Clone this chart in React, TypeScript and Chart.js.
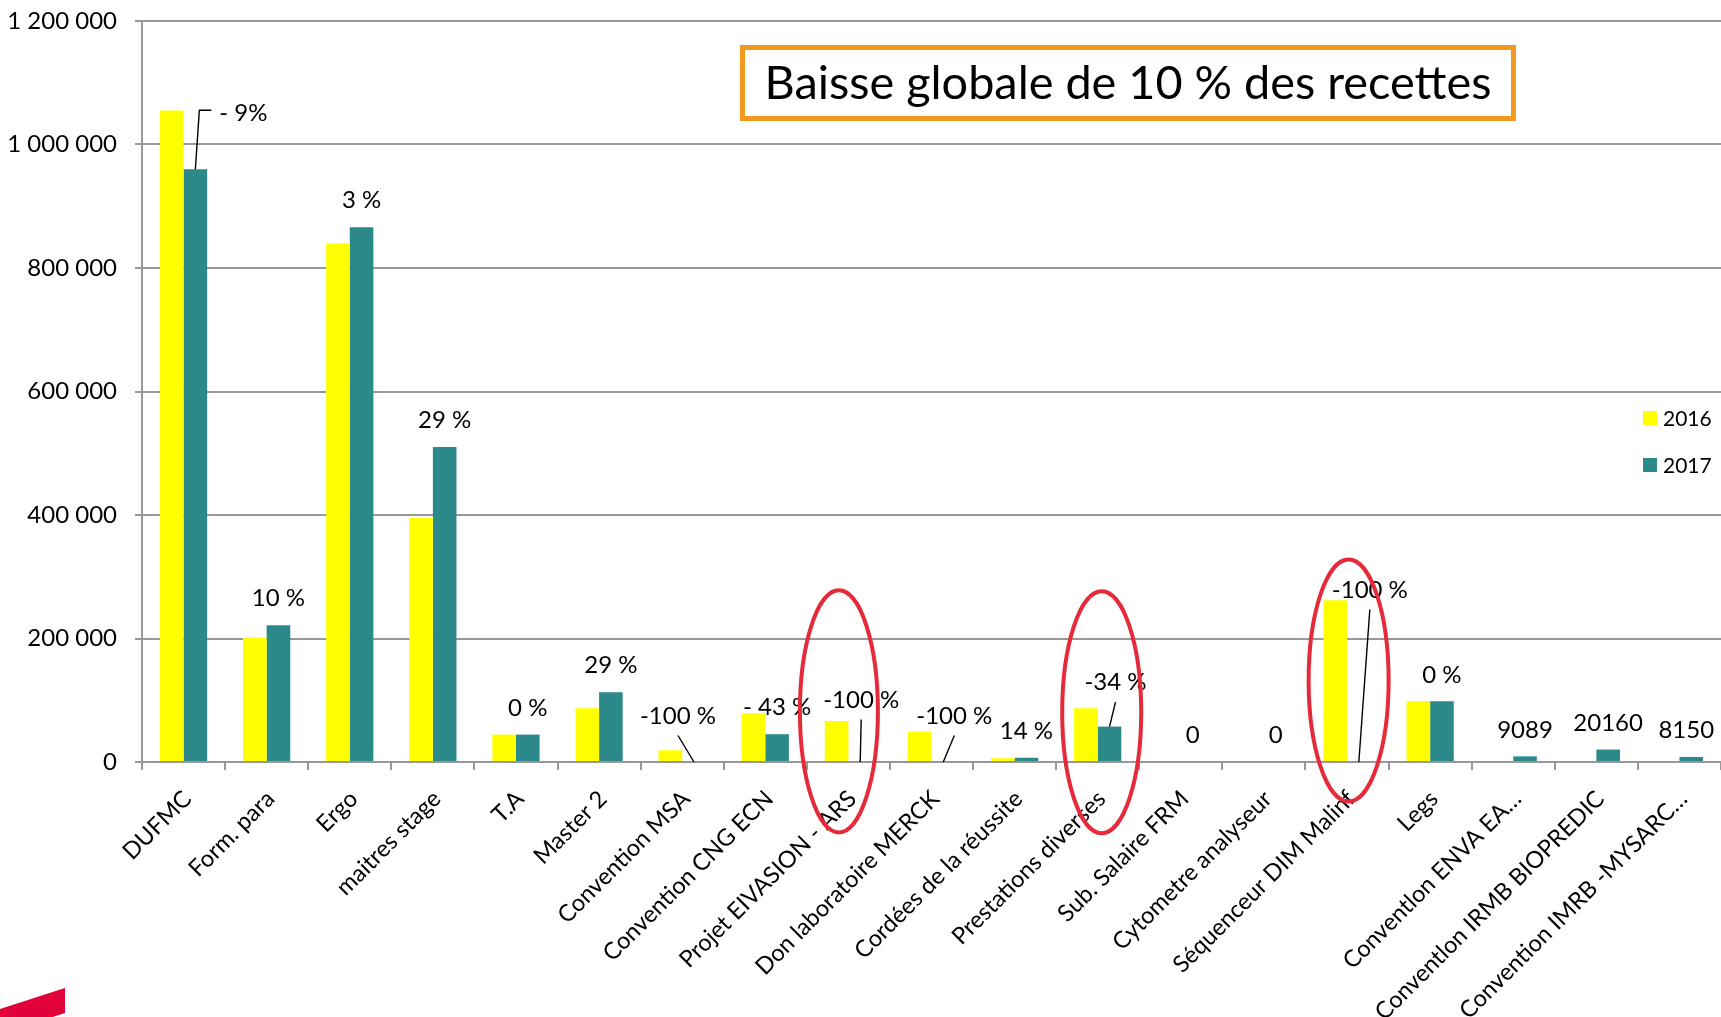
import React, { useEffect, useRef } from 'react';
import { Chart, registerables } from 'chart.js';

Chart.register(...registerables);

// ---------- data ----------
const categories = [
  'DUFMC',
  'Form. para',
  'Ergo',
  'maitres stage',
  'T.A',
  'Master 2',
  'Convention MSA',
  'Convention CNG ECN',
  'Projet EIVASION - ARS',
  'Don laboratoire MERCK',
  'Cordées de la réussite',
  'Prestations diverses',
  'Sub. Salaire FRM',
  'Cytometre analyseur',
  'Séquenceur DIM Malinf',
  'Legs',
  'Conventlon ENVA EA…',
  'Conventlon IRMB BIOPREDIC',
  'Convention IMRB -MYSARC…',
];

const values2016 = [
  1055000, 201500, 840000, 395000, 44400, 87000, 19000, 79000, 66400, 49200,
  6000, 87000, 0, 0, 262000, 98300, 0, 0, 0,
];

const values2017 = [
  960000, 221500, 866000, 510000, 44400, 113000, 0, 45000, 0, 0,
  6850, 57400, 0, 0, 0, 98300, 9089, 20160, 8150,
];

const changeLabels = [
  '- 9%', '10 %', '3 %', '29 %', '0 %', '29 %', '-100 %', '- 43 %', '-100 %', '-100 %',
  '14 %', '-34 %', '0', '0', '-100 %', '0 %', '9089', '20160', '8150',
];

const seriesNames = ['2016', '2017'];
const seriesColors = ['#FFFF00', '#2B8989'];

const yMin = 0;
const yMax = 1200000;
const yStep = 200000;

const titleText = 'Baisse globale de 10 % des recettes';

// categories circled in red
const highlightedCategories = [8, 11, 14];

// ---------- styling / placement (not data) ----------
const gridColor = '#989898';
const FONT = 'Lato';

type Placement = { dx: number; dy: number; leader: 'none' | 'line' | 'elbow' };
const defaultPlacement: Placement = { dx: 0, dy: -26.5, leader: 'none' };
const placementOverrides: Record<number, Placement> = {
  0: { dx: 48, dy: -56, leader: 'elbow' },
  6: { dx: -16, dy: -46, leader: 'line' },
  8: { dx: 1, dy: -62, leader: 'line' },
  9: { dx: 11, dy: -46, leader: 'line' },
  11: { dx: 6, dy: -44, leader: 'line' },
  14: { dx: 11, dy: -172, leader: 'line' },
  18: { dx: -5, dy: -26.5, leader: 'none' },
};

// ellipse geometry per highlighted category (pixel offsets from category centre, value centre)
const ellipseStyles = [
  { dx: -9.5, centerValue: 82000, halfValue: 196000, rx: 39 },
  { dx: 4, centerValue: 80500, halfValue: 196000, rx: 39.5 },
  { dx: 1.6, centerValue: 132000, halfValue: 196000, rx: 40 },
];

const formatThousands = (v: number) =>
  String(v).replace(/\B(?=(\d{3})+(?!\d))/g, ' ');

const overlayPlugin = {
  id: 'overlay',
  afterDatasetsDraw(chart: any) {
    const ctx: CanvasRenderingContext2D = chart.ctx;
    const meta = chart.getDatasetMeta(1);
    const xs = chart.scales.x;
    const ys = chart.scales.y;
    ctx.save();
    // data labels with leader lines
    ctx.font = `24px ${FONT}`;
    ctx.fillStyle = '#000';
    ctx.strokeStyle = '#000';
    ctx.lineWidth = 1.4;
    ctx.textAlign = 'center';
    ctx.textBaseline = 'middle';
    changeLabels.forEach((text, i) => {
      const bar = meta.data[i];
      if (!bar) return;
      const p = placementOverrides[i] || defaultPlacement;
      const lx = bar.x + p.dx;
      const ly = bar.y + p.dy;
      if (p.leader === 'line') {
        ctx.beginPath();
        ctx.moveTo(lx, ly + 19.5);
        ctx.lineTo(bar.x, bar.y);
        ctx.stroke();
      } else if (p.leader === 'elbow') {
        ctx.beginPath();
        ctx.moveTo(lx - 32, ly - 3);
        ctx.lineTo(lx - 44, ly - 3);
        ctx.lineTo(bar.x, bar.y);
        ctx.stroke();
      }
      ctx.fillText(text, lx, ly);
    });

    // red ellipses
    ctx.strokeStyle = '#E52A3A';
    ctx.lineWidth = 4;
    highlightedCategories.forEach((idx, k) => {
      const e = ellipseStyles[k];
      const cx = xs.getPixelForValue(idx) + e.dx;
      const cy = ys.getPixelForValue(e.centerValue);
      const ry = Math.abs(ys.getPixelForValue(e.centerValue + e.halfValue) - cy);
      ctx.beginPath();
      ctx.ellipse(cx, cy, e.rx, ry, 0, 0, Math.PI * 2);
      ctx.stroke();
    });
    ctx.restore();
  },
  afterDraw(chart: any) {
    const ctx: CanvasRenderingContext2D = chart.ctx;
    ctx.save();

    // title box
    const bx = 742.5, by = 47.5, bw = 771, bh = 71;
    ctx.fillStyle = '#fff';
    ctx.fillRect(bx, by, bw, bh);
    ctx.strokeStyle = '#F39A1E';
    ctx.lineWidth = 5;
    ctx.strokeRect(bx, by, bw, bh);
    ctx.font = `100px ${FONT}`;
    const w100 = ctx.measureText(titleText).width;
    const size = (100 * 727) / w100;
    ctx.font = `${size}px ${FONT}`;
    ctx.fillStyle = '#000';
    ctx.textAlign = 'center';
    ctx.textBaseline = 'alphabetic';
    ctx.fillText(titleText, bx + bw / 2, 99);

    // legend
    ctx.font = `21px ${FONT}`;
    ctx.textAlign = 'left';
    ctx.textBaseline = 'middle';
    seriesNames.forEach((name, i) => {
      const y = 411 + i * 47;
      ctx.fillStyle = seriesColors[i];
      ctx.fillRect(1643, y, 14, 14);
      ctx.fillStyle = '#000';
      ctx.fillText(name, 1663, y + 8);
    });

    // slide decoration bottom-left
    ctx.fillStyle = '#E2003A';
    ctx.beginPath();
    ctx.moveTo(0, 1009);
    ctx.lineTo(65, 988);
    ctx.lineTo(65, 1013);
    ctx.lineTo(0, 1034);
    ctx.closePath();
    ctx.fill();

    ctx.restore();
  },
};

export default function App() {
  const canvasRef = useRef<HTMLCanvasElement | null>(null);

  useEffect(() => {
    let chart: Chart | null = null;
    let cancelled = false;
    const build = () => {
      if (cancelled || !canvasRef.current) return;
      chart = new Chart(canvasRef.current, {
        type: 'bar',
        data: {
          labels: categories,
          datasets: [
            {
              label: seriesNames[0],
              data: values2016,
              backgroundColor: seriesColors[0],
              borderWidth: 0,
              categoryPercentage: 0.568,
              barPercentage: 1,
            },
            {
              label: seriesNames[1],
              data: values2017,
              backgroundColor: seriesColors[1],
              borderWidth: 0,
              categoryPercentage: 0.568,
              barPercentage: 1,
            },
          ],
        },
        options: {
          responsive: false,
          animation: false,
          devicePixelRatio: 1,
          layout: { padding: { top: 21, right: 0, bottom: 0, left: 0 } },
          plugins: {
            legend: { display: false },
            tooltip: { enabled: false },
            title: { display: false },
          },
          scales: {
            x: {
              grid: {
                offset: true,
                drawOnChartArea: false,
                drawTicks: true,
                tickLength: 8,
                color: gridColor,
                lineWidth: 2,
              },
              border: { color: gridColor, width: 2 },
              ticks: {
                autoSkip: false,
                maxRotation: 45,
                minRotation: 45,
                font: { family: FONT, size: 23.5 },
                color: '#000',
                padding: 15,
                labelOffset: 4,
              },
              afterFit: (s: any) => {
                s.height = 255;
              },
            },
            y: {
              min: yMin,
              max: yMax,
              ticks: {
                stepSize: yStep,
                callback: (v: any) => formatThousands(Number(v)),
                font: { family: FONT, size: 24 },
                color: '#000',
                padding: 18,
              },
              grid: { color: gridColor, lineWidth: 2, tickLength: 7 },
              border: { color: gridColor, width: 2 },
              afterFit: (s: any) => {
                s.width = 142;
                s.paddingTop = 0;
                s.paddingBottom = 0;
              },
            },
          },
        },
        plugins: [overlayPlugin],
      });
    };
    const fonts: any = (document as any).fonts;
    if (fonts && fonts.load) {
      Promise.all([fonts.load(`24px ${FONT}`), fonts.load(`100px ${FONT}`)])
        .catch(() => null)
        .then(build);
    } else {
      build();
    }
    return () => {
      cancelled = true;
      if (chart) chart.destroy();
    };
  }, []);

  return (
    <div style={{ position: 'fixed', left: 0, top: 0, width: 1721, height: 1017, background: '#fff' }}>
      <canvas ref={canvasRef} width={1721} height={1017} style={{ display: 'block' }} />
    </div>
  );
}
